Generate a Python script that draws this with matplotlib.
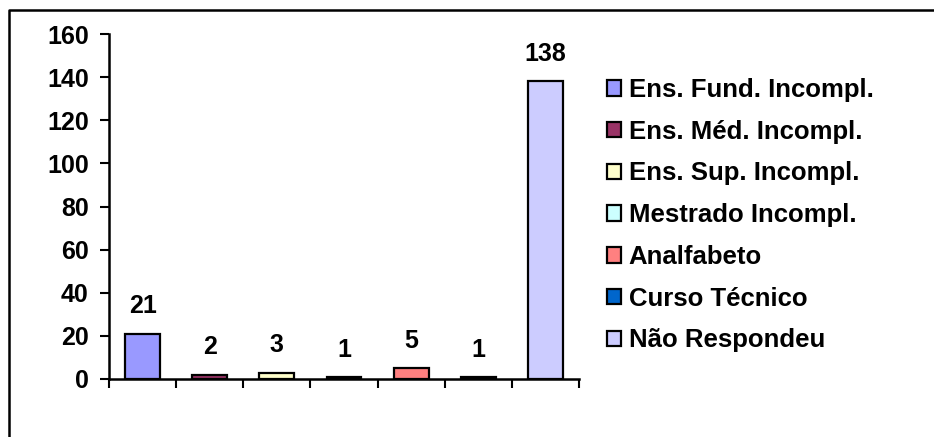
import matplotlib
matplotlib.use("Agg")
import matplotlib.pyplot as plt
from matplotlib.lines import Line2D
import numpy as np

categories = ["Ens. Fund. Incompl.", "Ens. Méd. Incompl.", "Ens. Sup. Incompl.",
              "Mestrado Incompl.", "Analfabeto", "Curso Técnico", "Não Respondeu"]
counts = [21, 2, 3, 1, 5, 1, 138]
colors = ["#9999FF", "#993366", "#FFFFCC", "#CCFFFF", "#FF8080", "#0066CC", "#CCCCFF"]

plt.rcParams["font.family"] = ["Liberation Sans", "DejaVu Sans"]
plt.rcParams["font.weight"] = "bold"

fig = plt.figure(figsize=(9.34, 4.37), dpi=100)
ax = fig.add_axes([109 / 934, 1 - 379 / 437, 470 / 934, 345 / 437])

x = np.arange(len(categories)) + 0.5
bars = ax.bar(x, counts, width=0.52, color=colors, edgecolor="black",
              linewidth=1.6, label=categories, zorder=3)

for xi, v in zip(x, counts):
    ax.annotate(str(v), (xi, v), xytext=(0, 11), textcoords="offset points",
                ha="center", va="bottom", fontsize=18, fontweight="bold")

ax.set_xlim(0, len(categories))
ax.set_ylim(0, 160)
ax.set_yticks(np.arange(0, 161, 20))
ax.set_xticks(np.arange(0, len(categories) + 1))
ax.set_xticklabels([])
ax.tick_params(axis="both", direction="out", length=6.5, width=1.5,
               labelsize=18, pad=8)
for lbl in ax.get_yticklabels():
    lbl.set_fontweight("bold")
for side in ["top", "right"]:
    ax.spines[side].set_visible(False)
for side in ["left", "bottom"]:
    ax.spines[side].set_linewidth(1.8)

leg = fig.legend(handles=bars.patches, labels=categories, loc="upper left",
                 bbox_to_anchor=(607 / 934, 1 - 78 / 437), frameon=False,
                 handlelength=0.55, handleheight=0.55,
                 handletextpad=0.3, labelspacing=0.69, borderpad=0,
                 borderaxespad=0, prop={"weight": "bold", "size": 18.5})
for h in leg.legend_handles:
    h.set_linewidth(1.6)

# outer chart frame (top and left edges)
fig.add_artist(Line2D([9 / 934, 9 / 934, 1.0], [0.0, 1 - 10 / 437, 1 - 10 / 437],
                      transform=fig.transFigure, color="black", linewidth=1.8))

fig.savefig("out.png", dpi=100)
